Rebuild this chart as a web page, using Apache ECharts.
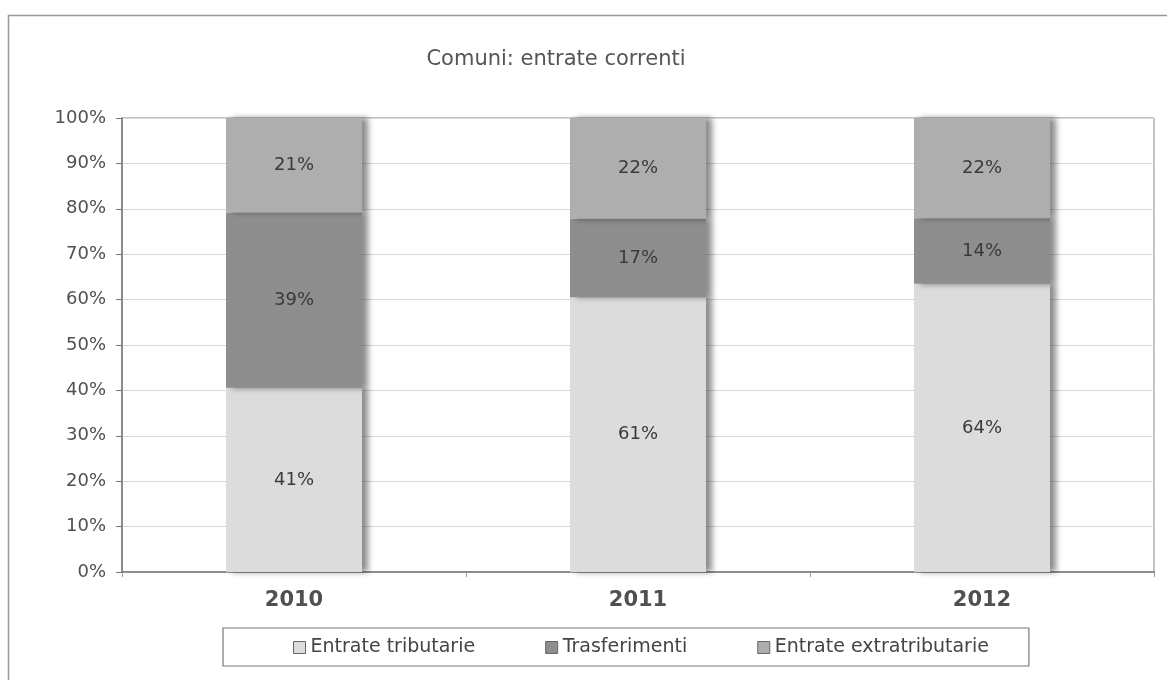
<!DOCTYPE html>
<html>
<head>
<meta charset="utf-8">
<script src="https://cdn.jsdelivr.net/npm/echarts@6/dist/echarts.min.js"></script>
<style>
    html, body { margin: 0; padding: 0; background: #fff; }
    #chart { width: 1167px; height: 680px; }
</style>
</head>
<body>
<div id="chart"></div>
<script>
    // dati (quote %)
    var anni = ['2010', '2011', '2012'];
    var tributarie = [40.6, 60.5, 63.5];
    var trasferimenti = [38.6, 17.3, 14.4];
    var extratributarie = [20.8, 22.2, 22.1];
    var yTicks = [0, 10, 20, 30, 40, 50, 60, 70, 80, 90, 100];

    var font = '"DejaVu Sans", Verdana, sans-serif';
    var chart = echarts.init(document.getElementById('chart'));

    function serie(nome, dati, colore) {
        return {
            name: nome,
            type: 'bar',
            stack: 'tot',
            barWidth: 136,
            data: dati,
            itemStyle: {
                color: colore,
                shadowColor: 'rgba(0,0,0,0.45)',
                shadowBlur: 6,
                shadowOffsetX: 6
            },
            label: {
                show: true,
                position: 'inside',
                color: '#3a3a3a',
                fontFamily: font,
                fontSize: 18,
                formatter: function (p) { return Math.round(p.value) + '%'; }
            }
        };
    }

    chart.setOption({
        animation: false,
        title: {
            text: 'Comuni: entrate correnti',
            left: 551,
            top: 44,
            textAlign: 'center',
            textStyle: { color: '#555', fontFamily: font, fontSize: 21, fontWeight: 'normal' }
        },
        graphic: [{
            type: 'rect',
            shape: { x: 8.5, y: 15.5, width: 1200, height: 700 },
            style: { fill: 'none', stroke: '#999', lineWidth: 1.5 },
            silent: true
        }],
        legend: {
            left: 223,
            top: 628,
            icon: 'rect',
            itemWidth: 12,
            itemHeight: 12,
            itemGap: 70,
            padding: [10, 40, 9, 70],
            borderColor: '#777',
            borderWidth: 1.2,
            itemStyle: { borderColor: '#666', borderWidth: 1 },
            textStyle: { color: '#444', fontFamily: font, fontSize: 19 },
            data: ['Entrate tributarie', 'Trasferimenti', 'Entrate extratributarie']
        },
        grid: {
            left: 122,
            right: 13,
            top: 118,
            bottom: 108,
            show: true,
            borderColor: '#888',
            borderWidth: 1
        },
        xAxis: {
            type: 'category',
            data: anni,
            axisLine: { lineStyle: { color: '#777', width: 1.5 } },
            axisTick: { show: true, length: 5, lineStyle: { color: '#999' } },
            axisLabel: { color: '#505050', fontFamily: font, fontSize: 21, fontWeight: 'bold', margin: 18 }
        },
        yAxis: {
            type: 'value',
            min: yTicks[0],
            max: yTicks[yTicks.length - 1],
            interval: 10,
            axisLine: { show: true, lineStyle: { color: '#777', width: 1.5 } },
            axisTick: { show: true, length: 6, lineStyle: { color: '#777' } },
            splitLine: { lineStyle: { color: '#d8d8d8' } },
            axisLabel: {
                color: '#505050',
                fontFamily: font,
                fontSize: 18,
                margin: 16,
                formatter: '{value}%'
            }
        },
        series: [
            serie('Entrate tributarie', tributarie, '#dcdcdc'),
            serie('Trasferimenti', trasferimenti, '#8e8e8e'),
            serie('Entrate extratributarie', extratributarie, '#aeaeae')
        ]
    });
</script>
</body>
</html>
